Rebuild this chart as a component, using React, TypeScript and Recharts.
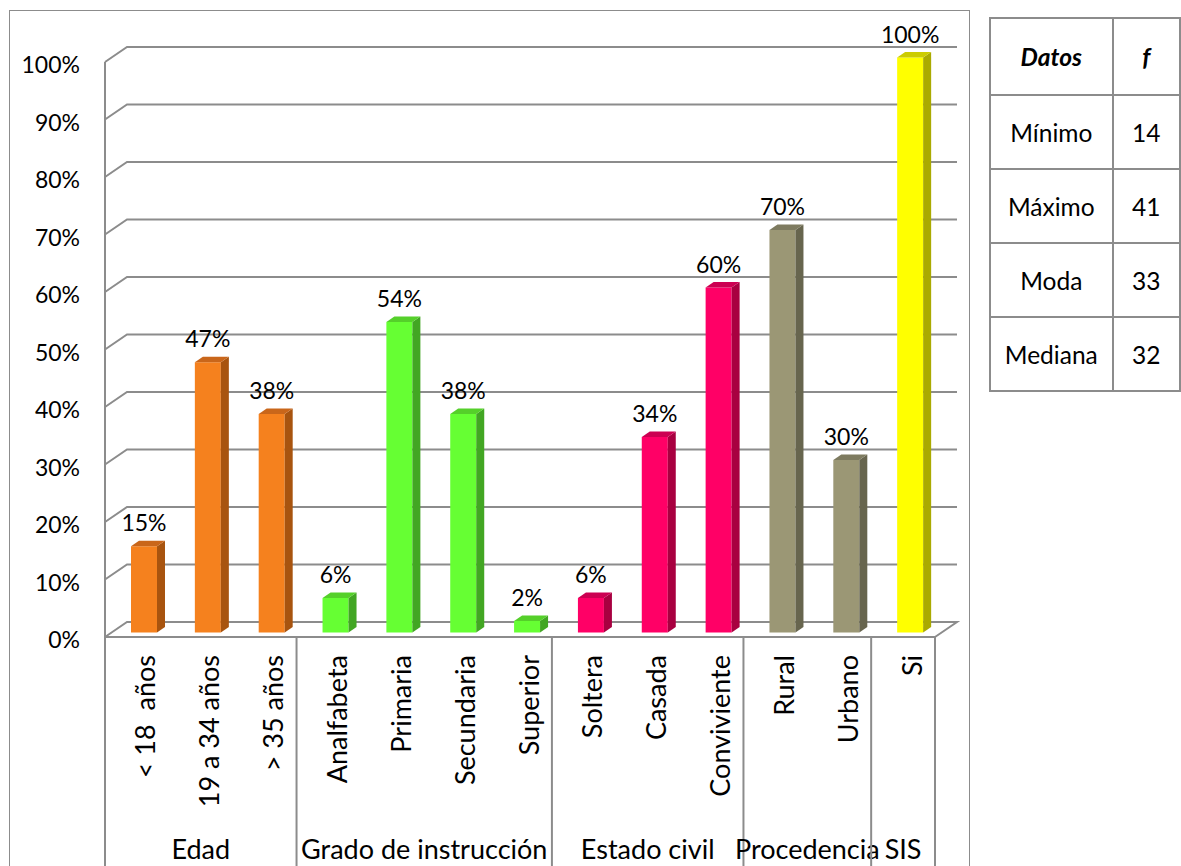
import { BarChart, Bar, XAxis, YAxis, CartesianGrid, LabelList } from 'recharts';

const categories = ['< 18  años', '19 a 34 años', '> 35 años', 'Analfabeta', 'Primaria', 'Secundaria', 'Superior', 'Soltera', 'Casada', 'Conviviente', 'Rural', 'Urbano', 'Si'];
const percents = [15, 47, 38, 6, 54, 38, 2, 6, 34, 60, 70, 30, 100];
const groupOf = [0, 0, 0, 1, 1, 1, 1, 2, 2, 2, 3, 3, 4];
const groupNames = ['Edad', 'Grado de instrucción', 'Estado civil', 'Procedencia', 'SIS'];
const yTicks = [0, 10, 20, 30, 40, 50, 60, 70, 80, 90, 100];

const statLabels = ['Mínimo', 'Máximo', 'Moda', 'Mediana'];
const statValues = [14, 41, 33, 32];

// front / side / top colour for each group
const palette = [
  ['#F5811E', '#A8540F', '#C9661A'],
  ['#66FF33', '#42A623', '#55D02A'],
  ['#FF0066', '#A80040', '#CC0052'],
  ['#9B9775', '#67654E', '#7E7B60'],
  ['#FFFF00', '#AAAA00', '#CCCC00'],
];

const data = categories.map((c, i) => ({ name: c, value: percents[i], group: groupOf[i] }));

const FONT = 'Lato, sans-serif';
const GRID = '#8c8c8c';
const W = 970;
const H = 866;
const M = { top: 62, right: 35, left: 0, bottom: 0 };
const Y_AXIS_W = 105;
const X_AXIS_H = 229;
const PLOT_L = Y_AXIS_W;
const PLOT_R = W - M.right;
const FLOOR = H - X_AXIS_H;
const BAND = (PLOT_R - PLOT_L) / categories.length;
const DEPTH_X = 22;
const DEPTH_Y = 15;
const BAR_DX = 7;
const BAR_DY = -4.5;

const Bar3D = (props: any) => {
  const { x, y, width, height, payload } = props;
  const [front, side, top] = palette[payload.group];
  const x0 = x + BAR_DX;
  const t = y + BAR_DY;
  const b = y + height + BAR_DY;
  const dx = 8;
  const dy = 5.5;
  return (
    <g>
      <rect x={x0} y={t} width={width} height={b - t} fill={front} />
      <polygon points={`${x0 + width},${t} ${x0 + width + dx},${t - dy} ${x0 + width + dx},${b - dy} ${x0 + width},${b}`} fill={side} />
      <polygon points={`${x0},${t} ${x0 + dx},${t - dy} ${x0 + width + dx},${t - dy} ${x0 + width},${t}`} fill={top} />
    </g>
  );
};

const gridLine = (p: any) => {
  const { x1, y1, x2, index } = p;
  const isFloor = Math.abs(y1 - FLOOR) < 1;
  const pts = isFloor
    ? `${x1},${y1} ${x1 + DEPTH_X},${y1 - DEPTH_Y} ${x2 + DEPTH_X},${y1 - DEPTH_Y} ${x2},${y1}`
    : `${x1},${y1} ${x1 + DEPTH_X},${y1 - DEPTH_Y} ${x2 + DEPTH_X},${y1 - DEPTH_Y}`;
  return <polyline key={`g-${index}`} points={pts} fill="none" stroke={GRID} strokeWidth={2} />;
};

const YTick = (p: any) => (
  <text x={80} y={p.y + 2} textAnchor="end" dominantBaseline="central" fontFamily={FONT} fontSize={23} fill="#000">
    {`${p.payload.value}%`}
  </text>
);

const XTick = (p: any) => {
  const i = p.index;
  const g = groupOf[i];
  const first = i === 0 || groupOf[i - 1] !== g;
  const last = i === categories.length - 1;
  const size = groupOf.filter((v) => v === g).length;
  const left = p.x - BAND / 2;
  return (
    <g>
      <text
        x={p.x + 8}
        y={655}
        transform={`rotate(-90 ${p.x + 8} 655)`}
        textAnchor="end"
        dominantBaseline="central"
        fontFamily={FONT}
        fontSize={27}
        fill="#000"
        style={{ whiteSpace: 'pre' }}
      >
        {p.payload.value}
      </text>
      {first && <line x1={left} y1={FLOOR} x2={left} y2={H} stroke={GRID} strokeWidth={2} />}
      {last && <line x1={p.x + BAND / 2} y1={FLOOR} x2={p.x + BAND / 2} y2={H} stroke={GRID} strokeWidth={2} />}
      {first && (
        <text x={left + (size * BAND) / 2} y={848} textAnchor="middle" dominantBaseline="central" fontFamily={FONT} fontSize={27} fill="#000">
          {groupNames[g]}
        </text>
      )}
    </g>
  );
};

const BarLabel = (p: any) => {
  const { x, y, width, value } = p;
  return (
    <text x={x + width / 2 + BAR_DX} y={y + BAR_DY - 24} textAnchor="middle" dominantBaseline="central" fontFamily={FONT} fontSize={23} fill="#000">
      {`${value}%`}
    </text>
  );
};

const cell: any = { border: `2px solid ${GRID}`, textAlign: 'center', verticalAlign: 'middle', padding: 0 };

export default function App() {
  return (
    <div style={{ position: 'absolute', left: 0, top: 0, width: 1181, height: 866, overflow: 'hidden', background: '#fff' }}>
      <div style={{ position: 'absolute', left: 9, top: 10, width: 959, height: 900, border: `1.5px solid ${GRID}` }} />
      <div style={{ position: 'absolute', left: 0, top: 0 }}>
        <BarChart width={W} height={H} data={data} margin={M}>
          <CartesianGrid vertical={false} horizontal={gridLine} />
          <YAxis
            type="number"
            domain={[0, 100]}
            ticks={yTicks}
            width={Y_AXIS_W}
            tick={<YTick />}
            tickLine={false}
            axisLine={{ stroke: GRID, strokeWidth: 2 }}
            interval={0}
          />
          <XAxis
            dataKey="name"
            height={X_AXIS_H}
            tick={<XTick />}
            tickLine={false}
            axisLine={{ stroke: GRID, strokeWidth: 2 }}
            interval={0}
          />
          <Bar dataKey="value" barSize={26} shape={<Bar3D />} isAnimationActive={false}>
            <LabelList dataKey="value" content={<BarLabel />} />
          </Bar>
        </BarChart>
      </div>
      <table
        style={{
          position: 'absolute',
          left: 989,
          top: 17,
          borderCollapse: 'collapse',
          fontFamily: FONT,
          fontSize: 24.5,
          color: '#000',
        }}
      >
        <tbody>
          <tr style={{ height: 77 }}>
            <td style={{ ...cell, width: 127, fontWeight: 'bold', fontStyle: 'italic' }}>Datos</td>
            <td style={{ ...cell, width: 74, fontWeight: 'bold', fontStyle: 'italic' }}>f</td>
          </tr>
          {statLabels.map((s, i) => (
            <tr key={s} style={{ height: 74 }}>
              <td style={cell}>{s}</td>
              <td style={cell}>{statValues[i]}</td>
            </tr>
          ))}
        </tbody>
      </table>
    </div>
  );
}
